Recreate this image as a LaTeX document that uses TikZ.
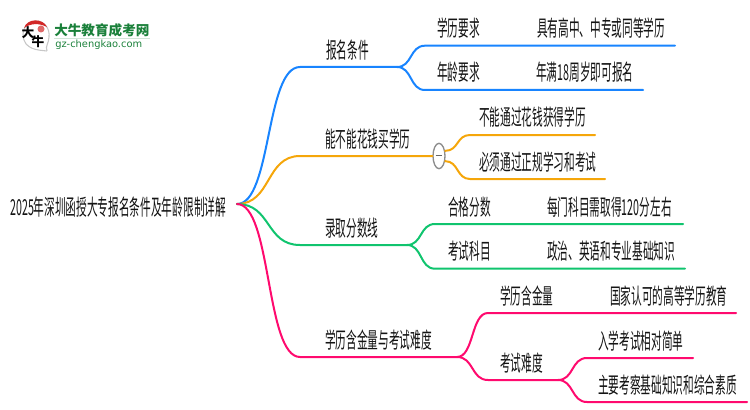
\documentclass[tikz,border=0pt]{standalone}
\usepackage{fontspec}
\setmainfont{Noto Sans CJK SC}[FakeStretch=0.485]
\newfontfamily\logofont{Noto Sans CJK SC}
\newfontfamily\urlfont{DejaVu Sans}
\usetikzlibrary{calc,positioning,shapes.geometric}
\definecolor{bluelimb}{RGB}{24,132,255}
\definecolor{orangelimb}{RGB}{245,166,10}
\definecolor{greenlimb}{RGB}{16,196,110}
\definecolor{pinklimb}{RGB}{255,10,110}
\definecolor{logogreen}{RGB}{26,128,58}
\definecolor{logored}{RGB}{210,40,40}
\tikzset{
	limb/.style={line width=1.5pt, line cap=round, line join=round},
	soft/.style={to path={.. controls ($(\tikztostart)!0.55!(\tikztotarget|-\tikztostart)$) and ($(\tikztotarget)!0.55!(\tikztostart|-\tikztotarget)$) .. (\tikztotarget)}},
	topic/.style={anchor=west, inner sep=0pt, text height=14.5pt, text depth=2pt, font=\fontsize{16.5}{16.5}\selectfont, text=black!92},
}
\begin{document}
\begin{tikzpicture}[x=0.75pt, y=-0.75pt]
	\useasboundingbox (0,0) rectangle (750,410);
	% logo
	\draw[black!22, line width=0.8pt, fill=white] (47,51) .. controls (38,50) and (24,50) .. (23,35) .. controls (23,26) and (30,21) .. (36,21) .. controls (44,21) and (50,28) .. (49,37) .. controls (49,43) and (45,46) .. (47,51);
	\fill[logored] (24,28) .. controls (27,18) and (43,18) .. (47,27) .. controls (39,23) and (31,23) .. (24,28);
	\fill[logored!70] (41,29) circle (3.5);
	\node[inner sep=0pt] (logoda) at (28,33) {\logofont\bfseries\fontsize{9.5}{10}\selectfont 大};
	\node[inner sep=0pt] (logoniu) at (38,42) {\logofont\bfseries\fontsize{9.5}{10}\selectfont 牛};
	\node[anchor=west, inner sep=0pt, text=logogreen] (logotitle) at (54,30) {\logofont\bfseries\fontsize{10.2}{11}\selectfont 大牛教育成考网};
	\node[anchor=west, inner sep=0pt, text=logogreen] (logourl) at (55,45) {\urlfont\fontsize{7.4}{9}\selectfont gz-chengkao.com};
	\draw[logogreen!20, line width=0.7pt] (logotitle.south west)++(0,1.5) -- ++(96,0);
	% root
	\node[topic] (root) at (10,207) {2025年深圳函授大专报名条件及年龄限制详解};
	\coordinate (hub) at (237,204);
	% blue
	\coordinate (a0) at (300,67); \coordinate (a1) at (397,67);
	\coordinate (a2) at (425,45.7); \coordinate (a3) at (675,45.7);
	\coordinate (a4) at (425,90); \coordinate (a5) at (643,90);
	\draw[limb, bluelimb] (hub) to[soft] (a0) -- (a1);
	\draw[limb, bluelimb] (a1) to[soft] (a2) -- (a3);
	\draw[limb, bluelimb] (a1) to[soft] (a4) -- (a5);
	\node[topic] (baoming) at (326,50) {报名条件};
	\node[topic] (xueli) at (437,28) {学历要求};
	\node[topic] (gaozhong) at (537,28) {具有高中、中专或同等学历};
	\node[topic] (nianling) at (437,72) {年龄要求};
	\node[topic] (manzhou) at (536,72) {年满18周岁即可报名};
	% orange
	\coordinate (b0) at (300,156);
	\coordinate (b2) at (470,135); \coordinate (b3) at (595,135);
	\coordinate (b4) at (470,179); \coordinate (b5) at (605,179);
	\node[draw=black!45, line width=1pt, fill=white, ellipse, inner sep=0pt, minimum width=9pt, minimum height=19pt, text=black!60] (fold) at (439,156) {\rule[0.5pt]{5pt}{1.1pt}};
	\draw[limb, orangelimb] (hub) to[soft] (b0) -- (fold);
	\draw[limb, orangelimb] (fold.40) to[soft] (b2) -- (b3);
	\draw[limb, orangelimb] (fold.-40) to[soft] (b4) -- (b5);
	\node[topic] (huaqian) at (325,139) {能不能花钱买学历};
	\node[topic] (buneng) at (479,117) {不能通过花钱获得学历};
	\node[topic] (bixu) at (479,162) {必须通过正规学习和考试};
	% green
	\coordinate (c0) at (300,245); \coordinate (c1) at (407,245);
	\coordinate (c2) at (435,224); \coordinate (c3) at (683,224);
	\coordinate (c4) at (435,268.7); \coordinate (c5) at (685,268.7);
	\draw[limb, greenlimb] (hub) to[soft] (c0) -- (c1);
	\draw[limb, greenlimb] (c1) to[soft] (c2) -- (c3);
	\draw[limb, greenlimb] (c1) to[soft] (c4) -- (c5);
	\node[topic] (luqu) at (325,228) {录取分数线};
	\node[topic] (hege) at (448,207) {合格分数};
	\node[topic] (meimen) at (547,207) {每门科目需取得120分左右};
	\node[topic] (kemu) at (448,251) {考试科目};
	\node[topic] (zhengzhi) at (547,251) {政治、英语和专业基础知识};
	% pink
	\coordinate (d0) at (300,357); \coordinate (d1) at (457,357);
	\coordinate (d2) at (488,313); \coordinate (d3) at (736,313);
	\coordinate (d4) at (488,380); \coordinate (d5) at (558,380);
	\coordinate (d6) at (587,358); \coordinate (d7) at (693,358);
	\coordinate (d8) at (587,402); \coordinate (d9) at (747,402);
	\draw[limb, pinklimb] (hub) to[soft] (d0) -- (d1);
	\draw[limb, pinklimb] (d1) to[soft] (d2) -- (d3);
	\draw[limb, pinklimb] (d1) to[soft] (d4) -- (d5);
	\draw[limb, pinklimb] (d5) to[soft] (d6) -- (d7);
	\draw[limb, pinklimb] (d5) to[soft] (d8) -- (d9);
	\node[topic] (hanjin) at (325,340) {学历含金量与考试难度};
	\node[topic] (xuelihan) at (500,296) {学历含金量};
	\node[topic] (guojia) at (610,296) {国家认可的高等学历教育};
	\node[topic] (nandu) at (500,363) {考试难度};
	\node[topic] (ruxue) at (598,341) {入学考试相对简单};
	\node[topic] (zhuyao) at (598,385) {主要考察基础知识和综合素质};
\end{tikzpicture}
\end{document}
